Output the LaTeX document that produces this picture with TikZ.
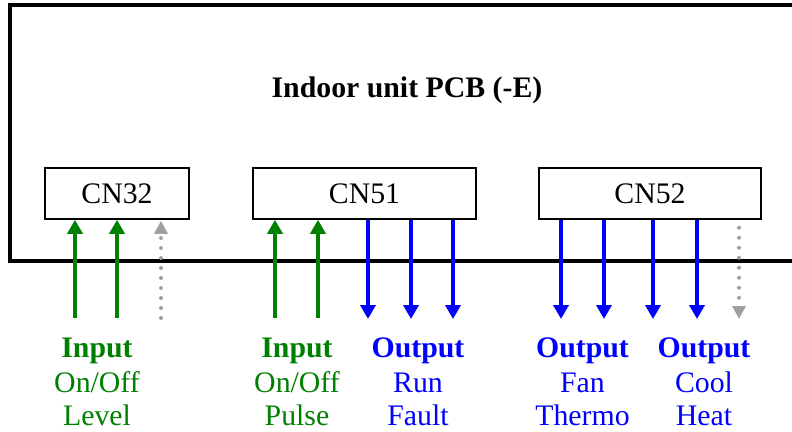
\documentclass[tikz,border=0pt]{standalone}
\usepackage{fontspec}
\setmainfont{Liberation Serif}
\usetikzlibrary{arrows.meta}
\definecolor{ingreen}{HTML}{008000}
\definecolor{outblue}{HTML}{0000FF}
\definecolor{spare}{HTML}{A0A0A0}
\tikzset{
  cnbox/.style={draw=black, line width=1.5pt, inner sep=0pt, minimum height=51pt, font=\fontsize{29.8}{34}\selectfont},
  inarrow/.style={draw=ingreen, line width=4.5pt, -{Triangle[width=15pt,length=14pt]}},
  outarrow/.style={draw=outblue, line width=4.5pt, -{Triangle[width=15pt,length=14pt]}},
  sparearrow/.style={draw=spare, line width=4pt, line cap=round, dash pattern=on 0pt off 10pt, -{Triangle[width=13pt,length=13pt]}},
  headlbl/.style={anchor=base, inner sep=0pt, font=\fontsize{29.8}{34}\selectfont\bfseries},
  lbl/.style={anchor=base, inner sep=0pt, font=\fontsize{29.8}{34}\selectfont},
}
\begin{document}
\begin{tikzpicture}[x=1pt,y=-1pt]
\useasboundingbox (0,0) rectangle (792,431);
% PCB outline (open to the right)
\draw[line width=4pt] (800,5) -- (10,5) -- (10,261) -- (800,261);
\node[headlbl] (title) at (407,97) {Indoor unit PCB (-E)};
% connectors
\node[cnbox, minimum width=144pt] (CN32) at (117,193.5) {CN32};
\node[cnbox, minimum width=223pt] (CN51) at (364.5,193.5) {CN51};
\node[cnbox, minimum width=222pt] (CN52) at (650,193.5) {CN52};
% free ends
\coordinate (a1) at (75,318);
\coordinate (a2) at (117,318);
\coordinate (a3) at (161,318);
\coordinate (b1) at (275,318);
\coordinate (b2) at (318,318);
\coordinate (b3) at (368,319);
\coordinate (b4) at (411,319);
\coordinate (b5) at (453,319);
\coordinate (c1) at (561,319);
\coordinate (c2) at (604,319);
\coordinate (c3) at (653,319);
\coordinate (c4) at (697,319);
\coordinate (c5) at (739,319);
% CN32
\draw[inarrow] (a1) -- (a1 |- CN32.south);
\draw[inarrow] (a2) -- (a2 |- CN32.south);
\draw[sparearrow] (a3) -- ([yshift=-1pt]a3 |- CN32.south);
% CN51
\draw[inarrow] (b1) -- (b1 |- CN51.south);
\draw[inarrow] (b2) -- (b2 |- CN51.south);
\draw[outarrow] (b3 |- CN51.south) -- (b3);
\draw[outarrow] (b4 |- CN51.south) -- (b4);
\draw[outarrow] (b5 |- CN51.south) -- (b5);
% CN52
\draw[outarrow] (c1 |- CN52.south) -- (c1);
\draw[outarrow] (c2 |- CN52.south) -- (c2);
\draw[outarrow] (c3 |- CN52.south) -- (c3);
\draw[outarrow] (c4 |- CN52.south) -- (c4);
\draw[sparearrow] ([yshift=-8pt]c5 |- CN52.south) -- (c5);
% labels
\node[headlbl, text=ingreen] (l1a) at (97,357) {Input};
\node[lbl, text=ingreen] (l1b) at (97,392) {On/Off};
\node[lbl, text=ingreen] (l1c) at (97,425) {Level};
\node[headlbl, text=ingreen] (l2a) at (297,357) {Input};
\node[lbl, text=ingreen] (l2b) at (297,392) {On/Off};
\node[lbl, text=ingreen] (l2c) at (297,425) {Pulse};
\node[headlbl, text=outblue] (l3a) at (418,357) {Output};
\node[lbl, text=outblue] (l3b) at (418,392) {Run};
\node[lbl, text=outblue] (l3c) at (418,425) {Fault};
\node[headlbl, text=outblue] (l4a) at (582.5,357) {Output};
\node[lbl, text=outblue] (l4b) at (582.5,392) {Fan};
\node[lbl, text=outblue] (l4c) at (582.5,425) {Thermo};
\node[headlbl, text=outblue] (l5a) at (704,357) {Output};
\node[lbl, text=outblue] (l5b) at (704,392) {Cool};
\node[lbl, text=outblue] (l5c) at (704,425) {Heat};
\end{tikzpicture}
\end{document}
